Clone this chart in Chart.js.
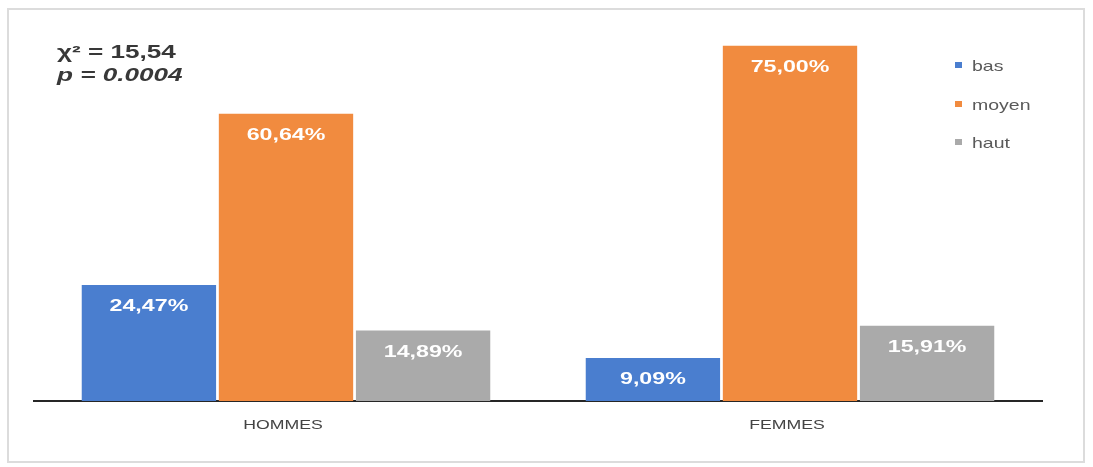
<!DOCTYPE html>
<html lang="fr">
<head>
<meta charset="utf-8">
<title>Niveau par sexe</title>
<script src="https://cdn.jsdelivr.net/npm/chart.js@4.4.1/dist/chart.umd.min.js"></script>
<style>
  html, body { margin: 0; padding: 0; background: #fff; }
  #wrap { position: relative; width: 1093px; height: 467px; overflow: hidden; }
  #frame { position: absolute; left: 7px; top: 8px; width: 1078px; height: 455px; border: 2px solid #dcdcdc; box-sizing: border-box; }
  #chart { position: absolute; left: 0; top: 0; }
  .stats { position: absolute; left: 57px; top: 41px; font-family: "Liberation Sans", Arial, sans-serif; font-weight: bold; font-size: 18px; line-height: 23px; color: #383838; transform: scaleX(1.45); transform-origin: 0 0; white-space: nowrap; }
  .stats i { font-style: italic; }
  .legend { position: absolute; left: 955px; top: 56px; font-family: "Liberation Sans", Arial, sans-serif; font-size: 15px; color: #5a5a5a; }
  .legend div { height: 38.5px; line-height: 20px; white-space: nowrap; }
  .legend span { display: inline-block; width: 7px; height: 6px; margin-right: 10px; vertical-align: 3px; }
  .legend b { font-weight: normal; display: inline-block; transform: scaleX(1.3); transform-origin: 0 50%; }
</style>
</head>
<body>
<div id="wrap">
  <div id="frame"></div>
  <canvas id="chart" width="1093" height="467"></canvas>
  <div class="stats">χ² = 15,54<br><i>p = 0.0004</i></div>
  <div class="legend" id="legend"></div>
</div>
<script>
const categories = ['HOMMES', 'FEMMES'];
const seriesNames = ['bas', 'moyen', 'haut'];
const basValues = [24.47, 9.09];
const moyenValues = [60.64, 75.00];
const hautValues = [14.89, 15.91];

const COLORS = ['#4a7ecf', '#f18b3f', '#aaaaaa'];
const FONT = '"Liberation Sans", Arial, sans-serif';

const fmt = v => v.toFixed(2).replace('.', ',') + '%';

// text drawn with a horizontal stretch, like the rest of the figure
function wideText(ctx, text, x, y, sx) {
  ctx.save();
  ctx.translate(x, y);
  ctx.scale(sx, 1);
  ctx.fillText(text, 0, 0);
  ctx.restore();
}

// white value labels inside the bars + category names under the axis
const barText = {
  id: 'barText',
  afterDatasetsDraw(chart) {
    const ctx = chart.ctx;
    ctx.save();
    ctx.textAlign = 'center';
    ctx.textBaseline = 'middle';
    ctx.font = 'bold 16px ' + FONT;
    ctx.fillStyle = '#ffffff';
    chart.data.datasets.forEach((ds, i) => {
      chart.getDatasetMeta(i).data.forEach((bar, j) => {
        wideText(ctx, fmt(ds.data[j]), bar.x, bar.y + 22, 1.45);
      });
    });
    const xs = chart.scales.x;
    ctx.font = '13px ' + FONT;
    ctx.fillStyle = '#444444';
    categories.forEach((c, i) => {
      wideText(ctx, c, xs.getPixelForTick(i) - 3, xs.top + 24, 1.36);
    });
    ctx.restore();
  }
};

const legendEl = document.getElementById('legend');
seriesNames.forEach((name, i) => {
  const row = document.createElement('div');
  row.innerHTML = '<span style="background:' + COLORS[i] + '"></span><b>' + name + '</b>';
  legendEl.appendChild(row);
});

new Chart(document.getElementById('chart'), {
  type: 'bar',
  data: {
    labels: categories,
    datasets: [basValues, moyenValues, hautValues].map((data, i) => ({
      label: seriesNames[i],
      data,
      backgroundColor: COLORS[i],
      categoryPercentage: 0.816,
      barPercentage: 0.98
    }))
  },
  options: {
    responsive: false,
    animation: false,
    layout: { padding: { left: 34, right: 51, top: 22, bottom: 26 } },
    plugins: {
      legend: { display: false },
      tooltip: { enabled: false }
    },
    scales: {
      x: {
        grid: { display: false, drawTicks: false },
        border: { display: true, color: '#262626', width: 2 },
        ticks: { display: false },
        afterFit(scale) { scale.height = 40; }
      },
      y: {
        display: false,
        min: 0,
        max: 80
      }
    }
  },
  plugins: [barText]
});
</script>
</body>
</html>
